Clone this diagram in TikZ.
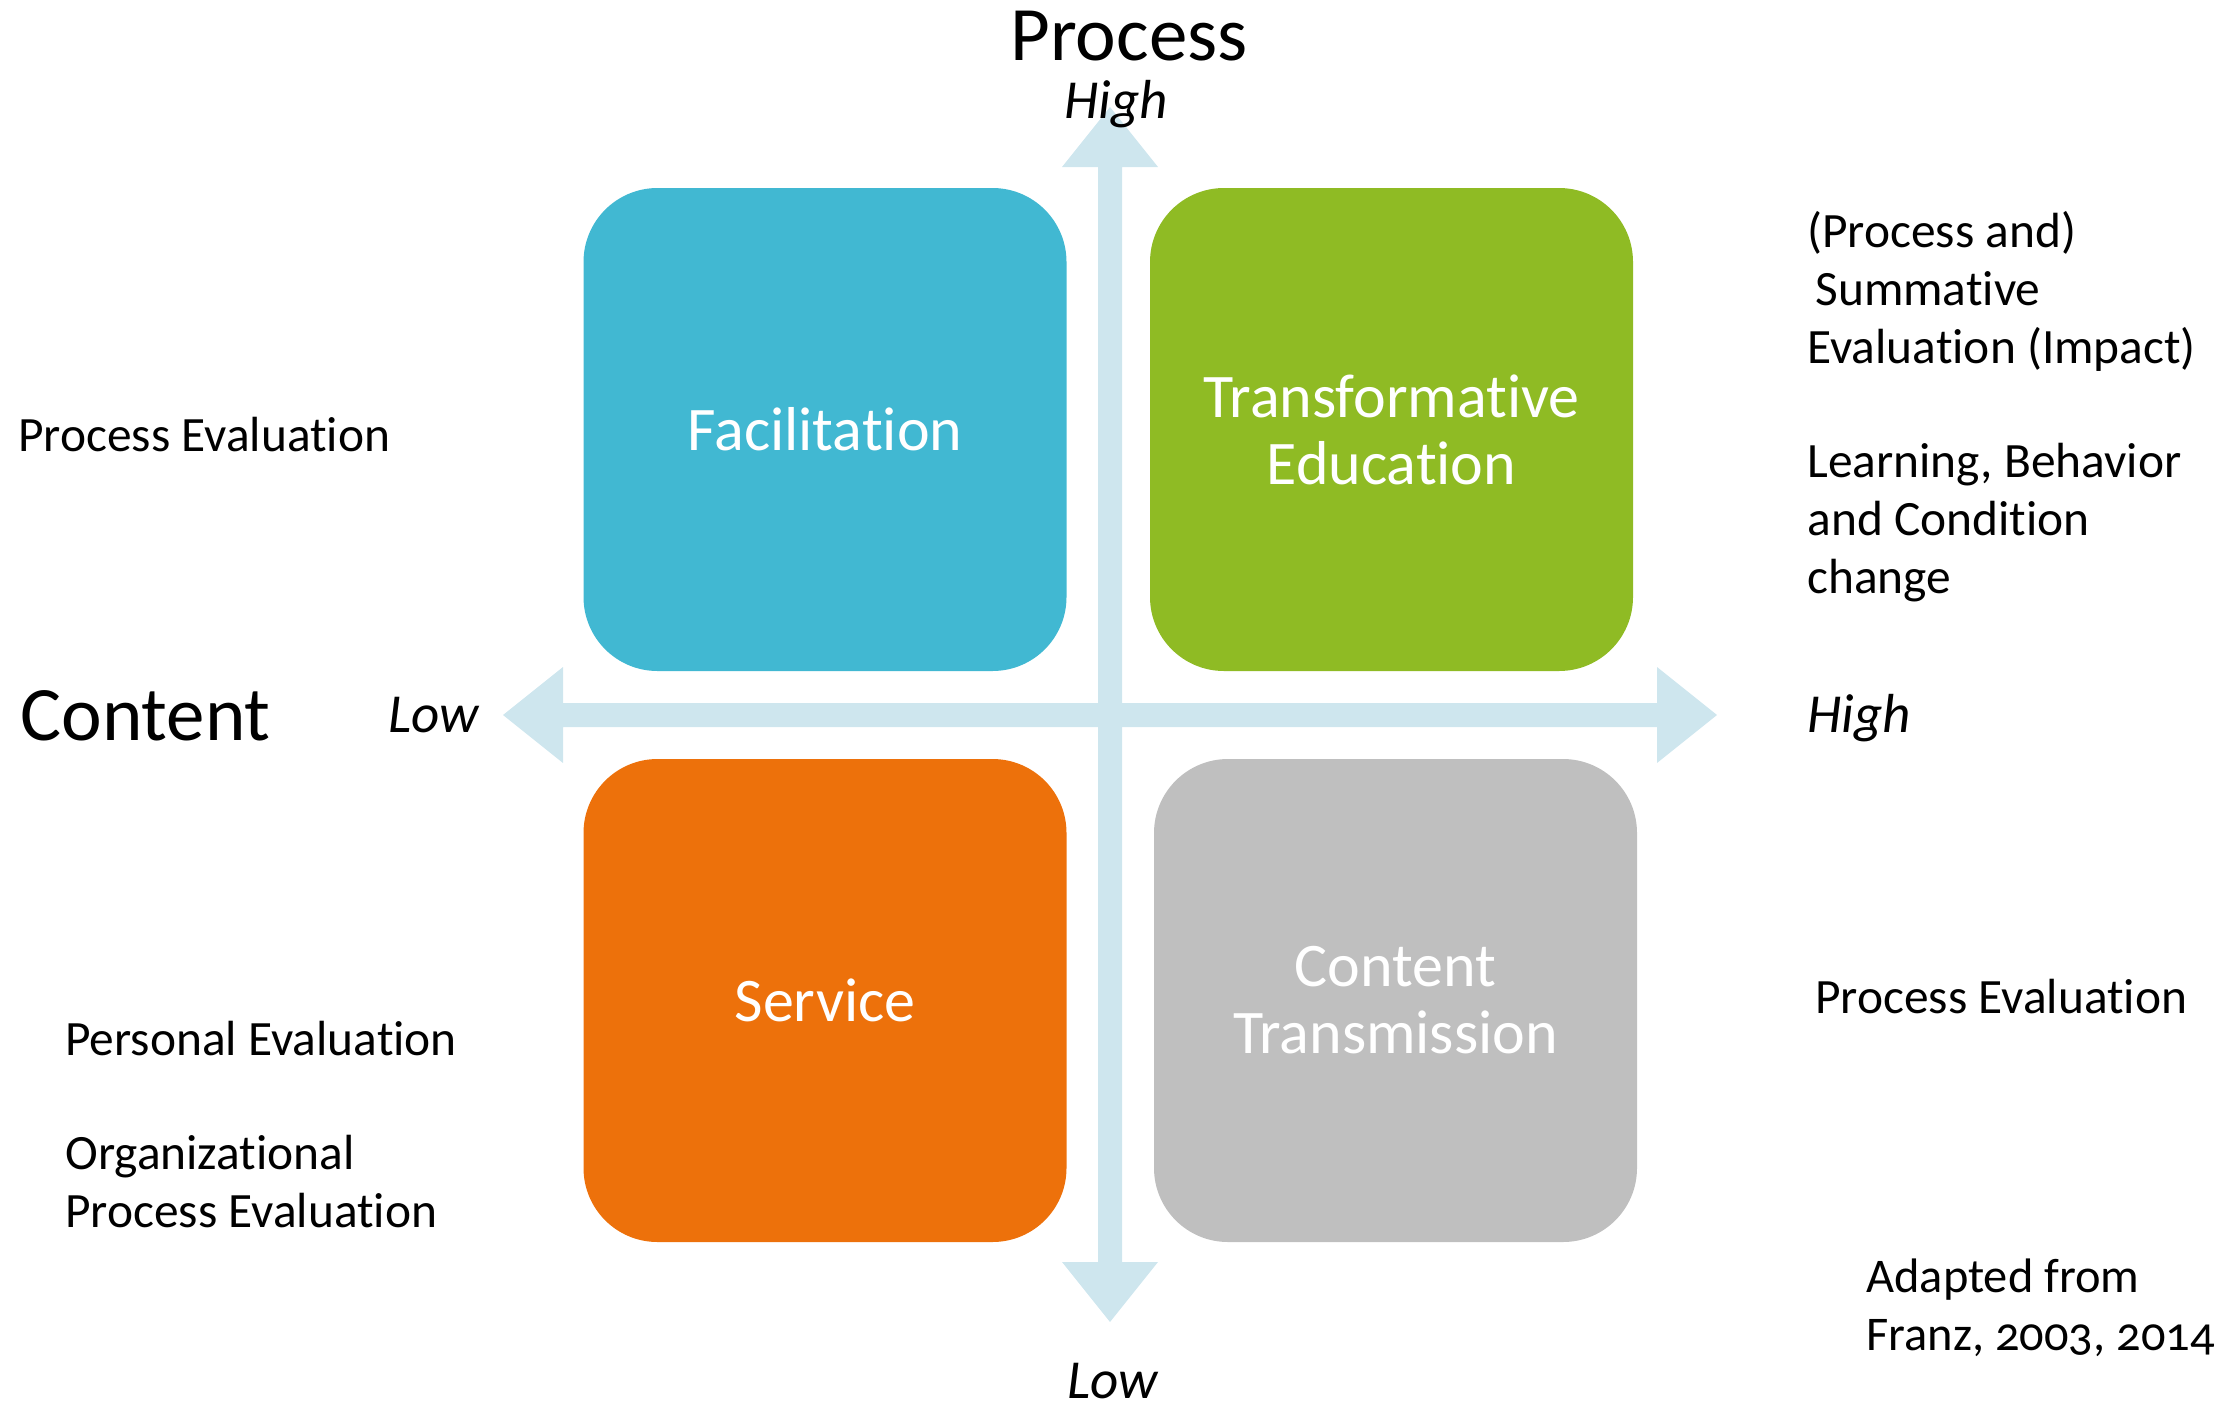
\documentclass[tikz,border=0pt]{standalone}
\usepackage{fontspec}
\setmainfont[Numbers=OldStyle, Ligatures=NoCommon]{Carlito}
\definecolor{facblue}{HTML}{41B8D2}
\definecolor{trgreen}{HTML}{8FBB24}
\definecolor{svorange}{HTML}{ED710B}
\definecolor{ctgray}{HTML}{BFBFBF}
\definecolor{axisblue}{HTML}{CEE6EE}
\tikzset{
  quad/.style={rounded corners=37pt, minimum width=241.5pt, minimum height=241.5pt,
    inner sep=0pt, text=white, align=center, font=\fontsize{31}{33.5}\selectfont},
  body/.style={anchor=base west, inner sep=0pt, align=left, font=\fontsize{24.7}{29}\selectfont},
  big/.style={inner sep=0pt, font=\fontsize{38.5}{44}\selectfont},
  axlab/.style={inner sep=0pt, font=\fontsize{27.5}{30}\selectfont\itshape},
  axisfill/.style={fill=axisblue, draw=none}
}
\begin{document}
\begin{tikzpicture}[x=0.5pt, y=-0.5pt]
\useasboundingbox (0,0) rectangle (2226,1408);
% axes
\path[axisfill] (563,703) -- (1657,703) -- (1657,667) -- (1717,715) -- (1657,763) -- (1657,727)
  -- (563,727) -- (563,763) -- (503,715) -- (563,667) -- cycle;
\path[axisfill] (1098,167) -- (1062,167) -- (1110,107) -- (1158,167) -- (1122,167) -- (1122,1262)
  -- (1158,1262) -- (1110,1322) -- (1062,1262) -- (1098,1262) -- cycle;
% quadrants
\node[quad, fill=facblue] (fac) at (825,429.5) {Facilitation};
\node[quad, fill=trgreen] (tre) at (1391.5,429.5) {Transformative\\Education};
\node[quad, fill=svorange] (svc) at (825,1000.5) {Service};
\node[quad, fill=ctgray] (ctr) at (1395.5,1000.5) {Content\\Transmission};
% axis titles
\node[big, anchor=base] (ptitle) at (1129,60) {Process};
\node[big, anchor=base west] (ctitle) at (20,740) {Content};
\node[axlab, anchor=base] (phigh) at (1116,118) {High};
\node[axlab, anchor=base] (plow) at (1113,1398) {Low};
\node[axlab, anchor=base west] (clow) at (388,732) {Low};
\node[axlab, anchor=base west] (chigh) at (1807,732) {High};
% side texts (base = baseline of last line)
\node[body] (lpe) at (18,451) {Process Evaluation};
\node[body] (rsum) at (1807,363) {(Process and)\\\hspace{4pt}Summative\\Evaluation (Impact)};
\node[body] (rlbc) at (1807,593) {Learning, Behavior\\and Condition\\change};
\node[body] (rpe) at (1815,1013) {Process Evaluation};
\node[body] (lper) at (65,1055) {Personal Evaluation};
\node[body] (lorg) at (65,1227) {Organizational\\Process Evaluation};
\node[body, font=\fontsize{24.2}{29}\selectfont] (src) at (1866,1350) {Adapted from\\Franz, 2003, 2014};
\end{tikzpicture}
\end{document}
